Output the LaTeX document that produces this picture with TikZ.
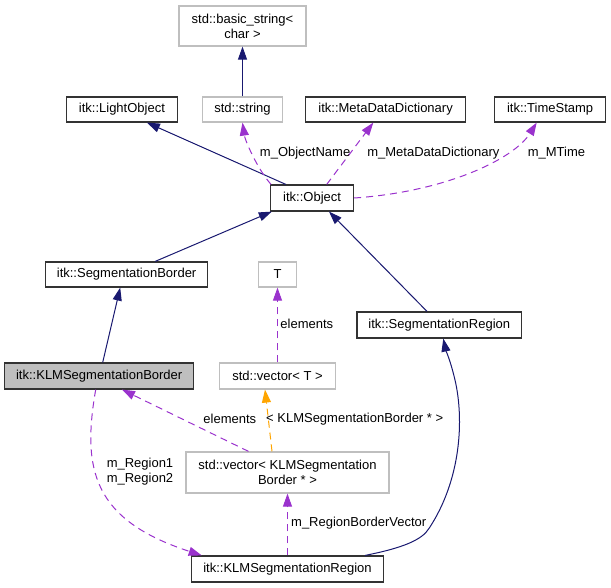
\documentclass[tikz,border=0pt]{standalone}
\usepackage{fontspec}
\setmainfont{Liberation Sans}
\usetikzlibrary{arrows.meta,calc}
\definecolor{navyc}{HTML}{191970}
\definecolor{purp}{HTML}{9A32CD}
\definecolor{orng}{HTML}{FFA500}
\definecolor{gbord}{HTML}{BFBFBF}
\definecolor{gfill}{HTML}{BFBFBF}
\definecolor{bbord}{HTML}{333333}
\begin{document}
\begin{tikzpicture}[x=1pt,y=-1pt,
  font=\fontsize{13}{15}\selectfont,
  box/.style={draw=bbord, line width=1.2pt, inner sep=0pt, align=center},
  gbox/.style={draw=gbord, line width=1.2pt, inner sep=0pt, align=center},
  tip/.style={-{Triangle[length=13pt,width=9pt]}},
  inh/.style={draw=navyc, line width=1pt, tip, navyc},
  use/.style={draw=purp, line width=1pt, dash pattern=on 7pt off 5pt, tip, purp},
  tmpl/.style={draw=orng, line width=1pt, dash pattern=on 7pt off 5pt, tip, orng},
  lbl/.style={inner sep=0pt, align=center, text=black}]
\useasboundingbox (0,0) rectangle (611,588);
% nodes
\node[gbox, minimum width=127pt, minimum height=40pt] (bs) at (242.5,26) {std::basic\_string<\\char >};
\node[box, minimum width=111pt, minimum height=25pt] (lo) at (121.9,109.5) {itk::LightObject};
\node[gbox, minimum width=80.5pt, minimum height=25pt] (str) at (242.5,109.5) {std::string};
\node[box, minimum width=160pt, minimum height=25pt] (mdd) at (385.6,109.5) {itk::MetaDataDictionary};
\node[box, minimum width=111pt, minimum height=25pt] (ts) at (550.1,109.5) {itk::TimeStamp};
\node[box, minimum width=83pt, minimum height=26pt] (obj) at (312.1,198) {itk::Object};
\node[box, minimum width=162pt, minimum height=25pt] (sb) at (126.6,274.5) {itk::SegmentationBorder};
\node[gbox, minimum width=38.5pt, minimum height=25pt] (T) at (277.5,274.5) {T};
\node[box, minimum width=164.5pt, minimum height=26pt] (sr) at (439.3,325) {itk::SegmentationRegion};
\node[box, fill=gfill, minimum width=189pt, minimum height=26pt] (klmb) at (99.2,376) {itk::KLMSegmentationBorder};
\node[gbox, minimum width=115.5pt, minimum height=26pt] (vt) at (277.5,376) {std::vector< T >};
\node[gbox, minimum width=203pt, minimum height=41pt] (vk) at (287.5,472.5) {std::vector< KLMSegmentation\\Border * >};
\node[box, minimum width=192.5pt, minimum height=26pt] (klmr) at (287.5,569) {itk::KLMSegmentationRegion};
% edges
\draw[inh] (str.north) -- (bs.south);
\draw[inh] ($(obj.north)+(-26.3,0)$) -- ($(lo.south)+(25,0)$);
\draw[use] ($(obj.north west)+(1,0)$) .. controls (256.7,168) and (245,140) .. (str.south);
\draw[use] ($(obj.north)+(14.6,0)$) -- ($(mdd.south)+(-12.3,0)$);
\draw[use] (obj.east) .. controls (443.3,192) and (513.3,160) .. ($(ts.south)+(-13.4,0)$);
\draw[inh] ($(sb.north)+(28.6,0)$) -- ($(obj.south)+(-40.3,0)$);
\draw[inh] ($(sr.north)+(-12.3,0)$) -- ($(obj.south)+(16.9,0)$);
\draw[inh] ($(klmb.north)+(3.5,0)$) -- ($(sb.south)+(-6.4,0)$);
\draw[use] (vt.north) -- (T.south);
\draw[tmpl] ($(vk.north)+(-15.5,0)$) -- ($(vt.south)+(-12.5,0)$);
\draw[use] ($(vk.north)+(-39,0)$) -- ($(klmb.south)+(22.8,0)$);
\draw[use] ($(klmb.south)+(-3.5,0)$) .. controls (81.7,470) and (93.3,520) .. ($(klmr.north)+(-85.8,0)$);
\draw[use] (klmr.north) -- (vk.south);
\draw[inh] ($(klmr.north)+(77.6,0)$) .. controls (402.5,548) and (422.3,540) .. (429.3,528)
  .. controls (460.8,480) and (464.3,420) .. (455,380)
  .. controls (450.3,360) and (445.7,350) .. ($(sr.south)+(4,0)$);
% labels
\node[lbl] (l1) at (305.1,153) {m\_ObjectName};
\node[lbl] (l2) at (433.4,153) {m\_MetaDataDictionary};
\node[lbl] (l3) at (556.5,153) {m\_MTime};
\node[lbl] (l4) at (306.8,324) {elements};
\node[lbl] (l5) at (229.8,419) {elements};
\node[lbl] (l6) at (354.7,419) {< KLMSegmentationBorder * >};
\node[lbl] (l7) at (140,472) {m\_Region1\\m\_Region2};
\node[lbl] (l8) at (358.75,523) {m\_RegionBorderVector};
\end{tikzpicture}
\end{document}
